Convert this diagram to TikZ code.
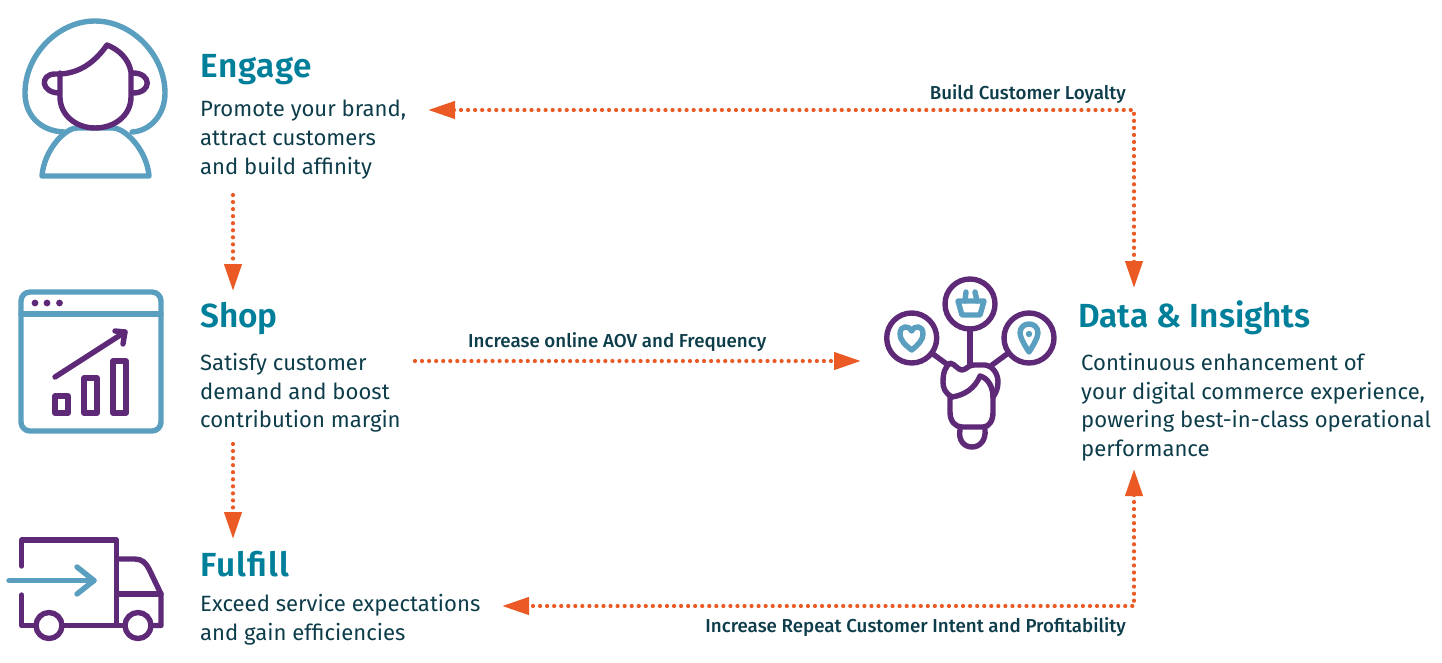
\documentclass[tikz,border=0pt]{standalone}
\usepackage{fontspec}
\setmainfont{Fira Sans}[UprightFont=*,BoldFont=* SemiBold]
\newfontfamily\labelfont{Fira Sans Medium}
\usetikzlibrary{arrows.meta}
\definecolor{ablue}{HTML}{5A9FC0}
\definecolor{apurple}{HTML}{5E2A78}
\definecolor{aorange}{HTML}{EB5A24}
\definecolor{ahead}{HTML}{007F9A}
\definecolor{abody}{HTML}{0D3D4A}
\tikzset{
 tipE/.tip={Triangle[length=27pt,width=17pt,fill=aorange,color=aorange]},
 headtext/.style={anchor=base west,inner sep=0pt,text=ahead,font=\fontsize{33.4}{36}\selectfont\bfseries},
 bodytext/.style={anchor=north west,inner sep=0pt,align=left,text=abody,font=\fontsize{22.1}{28.7}\selectfont},
 flowlabel/.style={anchor=base west,inner sep=0pt,text=abody,font=\fontsize{18.75}{22}\selectfont\labelfont},
 flow/.style={draw=aorange,line width=4.2pt,line cap=round,dash pattern=on 0pt off 7.05pt},
 iconb/.style={draw=ablue,line width=5.4pt,line cap=round,line join=round},
 iconp/.style={draw=apurple,line width=5.4pt,line cap=round,line join=round},
}
\begin{document}
\begin{tikzpicture}[x=1pt,y=-1pt]
\useasboundingbox (0,0) rectangle (1442,662);
% text
\node[headtext] (tEngage) at (200,77) {\addfontfeature{LetterSpace=2.2}Engage};
\node[bodytext] (bEngage) at (200,100) {Promote your brand,\\attract customers\\and build affinity};
\node[headtext] (tShop) at (200,327) {Shop};
\node[bodytext] (bShop) at (200,353) {Satisfy customer\\demand and boost\\contribution margin};
\node[headtext] (tFulfill) at (200,576) {\addfontfeature{LetterSpace=3}Fulfill};
\node[bodytext] (bFulfill) at (200,594) {Exceed service expectations\\and gain efficiencies};
\node[headtext] (tData) at (1078,327) {Data \& Insights};
\node[bodytext] (bData) at (1081,353) {Continuous enhancement of\\your digital commerce experience,\\powering best-in-class operational\\performance};
\node[flowlabel,anchor=base east] (lLoyal) at (1126,99) {Build Customer Loyalty};
\node[flowlabel] (lAov) at (468,347) {Increase online AOV and Frequency};
\node[flowlabel,anchor=base east] (lRepeat) at (1126,632) {Increase Repeat Customer Intent and Profitability};
% connector ends
\coordinate (aEngageE) at (428,110);
\coordinate (aCornerT) at (1134,110);
\coordinate (aDataT) at (1134,288);
\coordinate (aEngageS) at (233,195);
\coordinate (aShopN) at (233,291);
\coordinate (aShopS) at (233,444);
\coordinate (aFulfillN) at (233,539);
\coordinate (aShopE) at (415,361);
\coordinate (aIconW) at (861,361);
\coordinate (aDataB) at (1134,469);
\coordinate (aCornerB) at (1134,606);
\coordinate (aFulfillE) at (502,606);
\draw[flow,tipE-tipE] (aEngageE) -- (aCornerT) -- (aDataT);
\draw[flow,-tipE] (aEngageS) -- (aShopN);
\draw[flow,-tipE] (aShopS) -- (aFulfillN);
\draw[flow,-tipE] (aShopE) -- (aIconW);
\draw[flow,tipE-tipE] (aDataB) -- (aCornerB) -- (aFulfillE);
% person icon
\draw[iconb] (64,132) .. controls (40,131) and (25,115) .. (25,93) .. controls (25,55) and (58,21) .. (95,21) .. controls (132,21) and (165,55) .. (165,93) .. controls (165,115) and (150,131) .. (132,132);
\draw[iconb] (42,176) -- (149,176) .. controls (147,150) and (125,128) .. (113,128) -- (77,128) .. controls (65,128) and (44,150) .. (42,176) -- cycle;
\draw[iconp] (60,73) -- (60,97) .. controls (60,115) and (76,128) .. (95,128) .. controls (115,128) and (131,115) .. (131,97) -- (131,72) .. controls (129,60) and (120,50) .. (107,45) .. controls (95,62) and (80,73) .. (60,74) -- (55,74) .. controls (40,74) and (40,93) .. (60,93);
\draw[iconp] (133,73) .. controls (152,73) and (152,93) .. (133,93);
% shop icon
\draw[iconb,rounded corners=9pt] (21,292) rectangle (161,431);
\draw[iconb] (21,314) -- (161,314);
\foreach \px in {35,47,59.5} \fill[apurple] (\px,303) circle (3.4pt);
\draw[iconp] (55,396) rectangle (68,413);
\draw[iconp] (84,378) rectangle (97,413);
\draw[iconp] (113,361) rectangle (126,413);
\draw[iconp] (55,377) -- (125,332);
\draw[iconp] (115,331) -- (125,332) -- (123,344);
% truck icon
\draw[iconp] (21.7,566) -- (21.7,540) -- (116.7,540) -- (116.7,625);
\draw[iconp] (21.7,595) -- (21.7,625.5) -- (36,625.5);
\draw[iconp] (62,625.5) -- (125,625.5);
\draw[iconp] (116.7,559) -- (135,559) .. controls (142,559) and (146,563) .. (149,569) -- (161,594) -- (161,625.5) -- (152,625.5);
\draw[iconp] (116.7,594) -- (161,594);
\draw[iconp] (49,625.5) circle (13pt);
\draw[iconp] (138,625.5) circle (13pt);
\draw[iconb] (9,580.5) -- (94,580.5);
\draw[iconb] (77,567) -- (94,580.5) -- (77,594);
% data icon
\draw[iconp] (970,304) circle (25pt);
\draw[iconp] (911.7,338) circle (25pt);
\draw[iconp] (1029,338) circle (25pt);
\draw[iconp] (970,330) -- (970,365);
\draw[iconp] (933,354) -- (948,365);
\draw[iconp] (1007,354) -- (992,365);
\draw[iconp] (952,397) .. controls (945,393) and (943,388) .. (943,382) .. controls (943,373) and (945,367) .. (950,363) .. controls (955,364) and (958,370) .. (962,370) .. controls (966,370) and (968,365) .. (974,365) -- (985,365) .. controls (993,366) and (998,374) .. (998,382) .. controls (998,388) and (996,393) .. (993,397);
\draw[iconp] (952,397) .. controls (965,395) and (975,388) .. (980,376) .. controls (988,378) and (993,387) .. (993,397);
\draw[iconp] (950,397) -- (950,412) .. controls (950,421) and (955,427) .. (962,427) -- (983,427) .. controls (989,427) and (993,421) .. (993,412) -- (993,397);
\draw[iconp] (960,430) .. controls (958,440) and (964,447) .. (972,447) .. controls (980,447) and (986,440) .. (985,430);
% heart
\draw[iconb] (911.7,350) .. controls (905,345) and (900,340) .. (900,334) .. controls (900,325) and (909,325) .. (911.7,331) .. controls (914.5,325) and (923,325) .. (923,334) .. controls (923,340) and (918,345) .. (911.7,350) -- cycle;
% basket
\draw[iconb] (958,301) -- (984,301) -- (980,315) -- (962,315) -- cycle;
\draw[iconb] (965,301) -- (966,292);
\draw[iconb] (977,301) -- (975,292);
% pin
\draw[iconb] (1029,352) .. controls (1025,346) and (1020,337) .. (1020,333) .. controls (1020,321) and (1038,321) .. (1038,333) .. controls (1038,337) and (1033,346) .. (1029,352) -- cycle;
\fill[ablue] (1029,334) circle (3.2pt);
\end{tikzpicture}
\end{document}
